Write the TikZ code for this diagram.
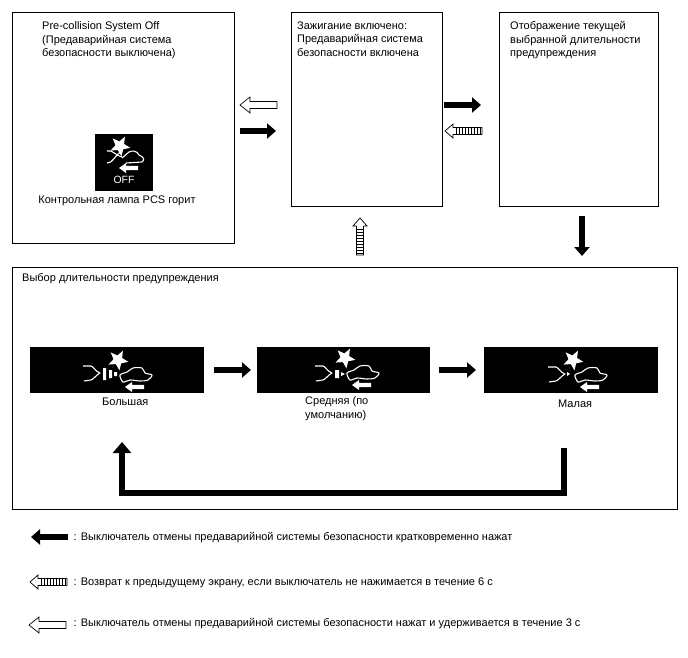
\documentclass[tikz,border=0pt]{standalone}
\usepackage{fontspec}
\setmainfont{Liberation Sans}
\usetikzlibrary{arrows.meta,calc}
\tikzset{
  frame/.style={draw,line width=0.9pt},
  label/.style={font=\fontsize{11}{13.4}\selectfont,inner sep=0pt,align=left},
  solid arrow/.style={line width=6pt,-{Triangle[length=9pt,width=15pt]}},
  lamp/.style={fill=black},
  glyph/.style={draw=white,line width=1.1pt,line join=round},
  hollow/.pic={
    \draw[line width=0.7pt,fill=white] (0,0) -- (10,-8) -- (10,-3.5) -- (37,-3.5) -- (37,3.5) -- (10,3.5) -- (10,8) -- cycle;
  },
  hatched/.pic={
    \draw[line width=0.7pt,fill=white] (0,0) -- (8,-7) -- (8,-3.5) -- (37,-3.5) -- (37,3.5) -- (8,3.5) -- (8,7) -- cycle;
    \foreach \x in {11,14,...,35} \draw[line width=0.7pt] (\x,-3.5) -- (\x,3.5);
  },
  star/.pic={
    \fill[white] (-62:10.5) -- (-98:4.6) -- (-134:10.5) -- (-170:4.6) -- (-206:10.5) -- (-242:4.6) -- (-278:10.5) -- (-314:4.6) -- (-350:10.5) -- (-26:4.6) -- cycle;
  },
  car/.pic={
    \draw[glyph] plot[smooth cycle,tension=0.5] coordinates {(0,8) (7,5) (13,1) (22,1) (25,6) (32,8) (28,13) (20,14) (10,13) (3,15)};
  },
  back/.pic={
    \fill[white] (0,0) -- (7,-5) -- (7,-2.2) -- (19,-2.2) -- (19,2.2) -- (7,2.2) -- (7,5) -- cycle;
  },
  sensor/.pic={
    \draw[glyph] (0,0) -- (8,0) .. controls (11,1) and (13,6) .. (17,7) .. controls (13,9) and (11,13) .. (8,14) -- (1,15);
  },
  sweep/.pic={
    \pic at (0,0) {star};
    \pic at (2,7) {car};
    \pic at (7,27) {back};
  }
}
\begin{document}
\begin{tikzpicture}[x=1pt,y=-1pt]
\useasboundingbox (0,0) rectangle (688,658);

\node[frame,minimum width=222pt,minimum height=231pt] (offbox) at (123,127.5) {};
\node[frame,minimum width=151pt,minimum height=194pt] (onbox) at (366.5,109) {};
\node[frame,minimum width=159pt,minimum height=194pt] (showbox) at (578.5,109) {};
\node[frame,minimum width=665pt,minimum height=242pt] (choosebox) at (344.5,388) {};

\node[label,anchor=north west] (offtext) at (42,21.5) {Pre-collision System Off\\(Предаварийная система\\безопасности выключена)};
\node[label,anchor=north west] (ontext) at (297,21.5) {Зажигание включено:\\Предаварийная система\\безопасности включена};
\node[label,anchor=north west] (showtext) at (510,21.5) {Отображение текущей\\выбранной длительности\\предупреждения};
\node[label] (lamptext) at (117,201) {Контрольная лампа PCS горит};
\node[label,anchor=west] (choosetext) at (22,279) {Выбор длительности предупреждения};

% OFF lamp
\node[lamp,minimum width=58pt,minimum height=57pt,inner sep=0pt] (offlamp) at (124,162.5) {};
\pic at (120,146) {star};
\draw[glyph] (107,151) .. controls (112,149) and (116,156) .. (122,157) (107,163) .. controls (112,164) and (116,154) .. (121,152);
\draw[glyph] (122,158) .. controls (124,155) and (127,155) .. (129,152) .. controls (133,150) and (137,151) .. (139,155) .. controls (144,157) and (145,160) .. (142,162) -- (126,163);
\pic at (119,168) {back};
\node[font=\fontsize{10.5}{11}\selectfont,text=white,inner sep=0pt] (offword) at (124,179.5) {OFF};

% sensitivity lamps
\node[lamp,minimum width=174pt,minimum height=46pt,inner sep=0pt] (biglamp) at (117,369.5) {};
\node[lamp,minimum width=173pt,minimum height=46pt,inner sep=0pt] (midlamp) at (343.5,369.5) {};
\node[lamp,minimum width=174pt,minimum height=46pt,inner sep=0pt] (lowlamp) at (570.5,369.5) {};
\pic at (118,360) {sweep};
\pic at (345,358) {sweep};
\pic at (573,360) {sweep};
\pic at (83,366) {sensor};
\pic at (315,366) {sensor};
\pic at (548,367) {sensor};
\fill[white] (103,368) rectangle (106,380) (109,370) rectangle (112,378) (114,372) rectangle (117,376);
\fill[white] (335,370) rectangle (339,378) (341,372) -- (345,374) -- (341,376) -- cycle;
\fill[white] (567,372) -- (570,374) -- (567,376) -- cycle;
\node[label,anchor=west] (bigtext) at (102,402) {Большая};
\node[label,anchor=north west] (midtext) at (305,396.5) {Средняя (по\\умолчанию)};
\node[label,anchor=west] (lowtext) at (558,404) {Малая};

% arrows between the screens
\pic at (240,105) {hollow};
\draw[solid arrow] (240,131) -- (276,131);
\draw[solid arrow] (444,105) -- (481,105);
\pic at (445,131) {hatched};
\pic[rotate=-90] at (360,218) {hatched};
\draw[solid arrow] (582,216) -- (582,256);
\draw[solid arrow] (214,370) -- (251,370);
\draw[solid arrow] (439,370) -- (476,370);
\draw[line width=6pt,-{Triangle[length=11pt,width=18pt]}] (564,448) -- (564,493) -- (122,493) -- (122,442);

% legend
\coordinate (keysolid) at (68,537);
\draw[solid arrow] (keysolid) -- (31,537);
\pic at (30,582) {hatched};
\pic at (29,625) {hollow};
\node[label,anchor=west] (keyone) at (73.5,537.5) {: Выключатель отмены предаварийной системы безопасности кратковременно нажат};
\node[label,anchor=west] (keytwo) at (73.5,583) {: Возврат к предыдущему экрану, если выключатель не нажимается в течение 6 с};
\node[label,anchor=west] (keythree) at (73.5,624) {: Выключатель отмены предаварийной системы безопасности нажат и удерживается в течение 3 с};
\end{tikzpicture}
\end{document}
